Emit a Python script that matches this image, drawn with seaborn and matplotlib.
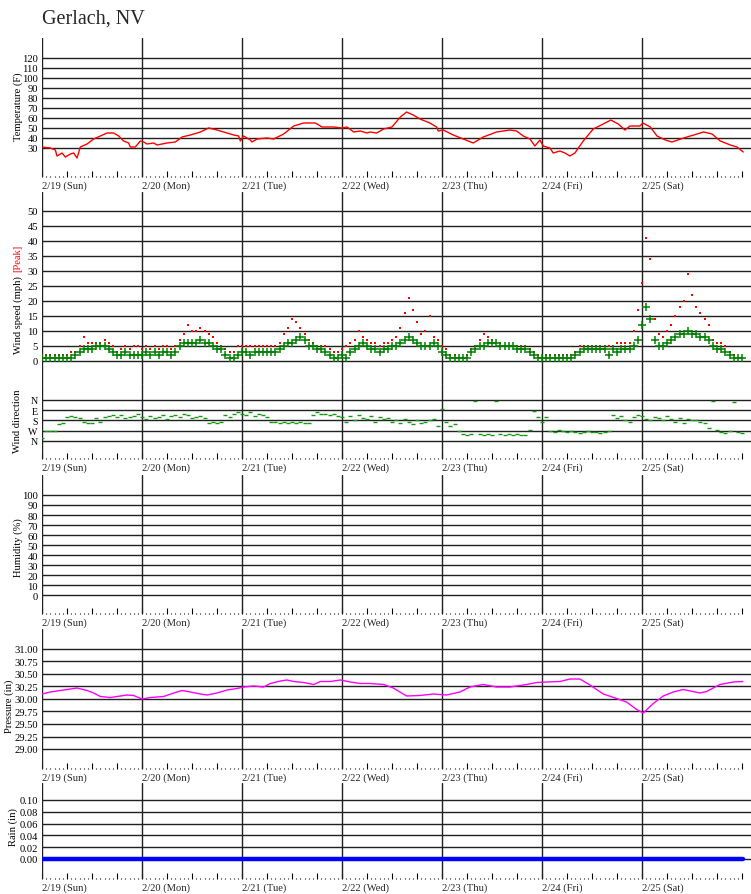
import matplotlib
matplotlib.use('Agg')
import matplotlib.pyplot as plt
import seaborn as sns

TITLE = 'Gerlach, NV'
DAY_LABELS = ['2/19 (Sun)', '2/20 (Mon)', '2/21 (Tue)', '2/22 (Wed)',
              '2/23 (Thu)', '2/24 (Fri)', '2/25 (Sat)']

# temperature (F), read at irregular hours since 2/19 00:00
temp_hours = [0, 2, 3.2, 3.6, 4.8, 5.6, 6.8, 7.6, 8.4, 9.2, 10.8, 12.4, 14, 15.6, 17.2, 18.4, 19.6, 20.8, 21.2, 22.4, 23.6,
              24.4, 25.2, 26.8, 27.6, 30, 32, 33.6, 35.6, 38, 40, 42, 44.4, 46, 47.2, 47.6,
              48.4, 50, 50.4, 51.6, 54, 55.6, 58, 60.4, 62.8, 65.6, 67.2, 70, 72, 73.2, 74.8, 76.4, 78,
              78.7, 80.3, 82, 84, 86, 87.5, 89.1, 90.7, 93.1, 94.7, 95.1, 96.3, 98.7, 101.1, 103.5, 105.9,
              109.1, 112.3, 113.9, 115.5, 117.1, 118.3, 119.5,
              120.3, 121.9, 122.7, 124.3, 125.5, 126.7, 127.9, 129.9, 132.3, 134.7, 136.5, 138.3, 139.9, 141.1, 143.5,
              144.2, 146, 147.6, 149.6, 151.2, 154, 156.4, 158.8, 160.8, 162.8, 165.2, 166.8, 168.3]
temp_f = [31, 30, 28, 22, 25, 21, 24, 25, 20, 31, 34, 39, 42, 45, 45, 42, 37, 35, 31, 31, 37,
          36, 34, 35, 33, 35, 36, 41, 43, 46, 50, 48, 45, 43, 42, 37,
          42, 38, 36, 39, 40, 39, 44, 52, 55, 55, 51, 51, 50, 51, 46, 47, 45,
          46, 45, 49, 51, 61, 66, 63, 59, 55, 51, 47, 48, 43, 39, 35, 41,
          46, 48, 47, 42, 39, 32, 38,
          32, 30, 25, 27, 25, 22, 25, 37, 49, 54, 58, 54, 48, 52, 52,
          55, 51, 42, 38, 36, 40, 43, 46, 44, 37, 33, 31, 26]

# hourly wind readings, hour 0 .. 168
wind_hours = list(range(169))
wind_avg = [1, 1, 1, 1, 1, 1, 1, 1, 2, 3, 4, 4, 4, 5, 5, 5, 4, 3, 2, 2, 3, 2, 2, 2,
            2, 3, 2, 3, 2, 3, 3, 2, 3, 5, 6, 6, 6, 6, 7, 6, 6, 5, 4, 4, 2, 1, 1, 2,
            3, 3, 2, 3, 3, 3, 3, 3, 3, 4, 5, 6, 6, 7, 8, 7, 5, 5, 4, 4, 3, 2, 1, 1,
            2, 1, 3, 4, 5, 6, 5, 4, 4, 3, 4, 4, 5, 5, 6, 7, 8, 7, 6, 5, 5, 5, 6, 5,
            3, 2, 1, 1, 1, 1, 1, 3, 4, 5, 5, 6, 6, 6, 5, 5, 5, 5, 4, 4, 4, 3, 2, 1,
            1, 1, 1, 1, 1, 1, 1, 1, 2, 3, 4, 4, 4, 4, 4, 4, 2, 4, 3, 4, 4, 4, 5, 7,
            12, 18, 14, 7, 5, 5, 6, 7, 8, 9, 9, 10, 9, 9, 8, 8, 7, 5, 4, 4, 3, 2, 1, 1, 1]
wind_peak = [2, 2, 2, 2, 2, 2, 2, 3, 3, 5, 8, 6, 6, 6, 6, 7, 6, 5, 3, 4, 5, 4, 5, 5,
             4, 5, 4, 5, 4, 5, 5, 4, 5, 7, 9, 12, 10, 10, 11, 10, 9, 8, 6, 5, 4, 3, 3, 5,
             5, 5, 5, 5, 5, 5, 5, 5, 5, 6, 9, 11, 14, 13, 11, 9, 7, 6, 5, 5, 5, 4, 3, 3,
             4, 5, 6, 7, 10, 8, 7, 6, 6, 5, 6, 6, 7, 8, 11, 16, 21, 17, 13, 9, 10, 15, 8, 7,
             5, 4, 2, 2, 1, 1, 2, 4, 5, 7, 9, 8, 7, 6, 6, 5, 5, 5, 5, 5, 5, 4, 3, 2,
             1, 2, 2, 2, 2, 2, 2, 2, 3, 5, 5, 5, 5, 5, 5, 5, 5, 5, 6, 6, 6, 6, 10, 17,
             26, 41, 34, 14, 9, 8, 10, 12, 15, 18, 20, 29, 22, 18, 16, 14, 12, 7, 6, 6, 5, 3, 2, 1, 1]
wind_dir = [330, 275, 275, 270, 210, 205, 150, 140, 150, 160, 195, 200, 200, 160, 195, 150, 140, 130, 150, 135, 160, 150, 140, 120,
            150, 170, 140, 160, 150, 130, 170, 140, 130, 150, 120, 130, 160, 150, 140, 160, 200, 195, 200, 190, 130, 150, 120, 110,
            120, 130, 110, 140, 120, 130, 150, 190, 195, 200, 190, 200, 195, 200, 190, 200, 200, 130, 110, 120, 125, 130, 120, 140,
            150, 190, 140, 180, 130, 160, 170, 140, 190, 150, 170, 160, 190, 180, 200, 170, 190, 210, 180, 200, 190, 180, 170, 230,
            80, 190, 230, 210, 270, 300, 310, 300, 10, 300, 305, 300, 310, 5, 300, 310, 300, 310, 300, 305, 310, 260, 100, 150,
            190, 150, 270, 280, 260, 270, 280, 270, 280, 290, 280, 270, 285, 280, 290, 280, 270, 130, 160, 140, 180, 190, 150, 130,
            140, 170, 180, 150, 160, 180, 140, 170, 190, 160, 200, 170, 180, 180, 190, 200, 250, 10, 260, 280, 290, 270, 15, 280, 290]

# pressure (in)
pres_hours = [0, 2, 4.4, 6, 8.4, 10.8, 12.4, 14, 16.4, 18.8, 20.4, 22, 24, 26, 29.2, 31.6, 33.6, 35.6, 38, 39.6,
              42, 44.4, 46.8, 48.4, 50.8, 53.2, 54.8, 57.2, 58.8, 60.4, 62.8, 65.2, 66.8, 69.2, 71.6, 74, 76.4, 78.7, 82, 84.3,
              87.5, 90.7, 93.9, 97.1, 100.3, 102.7, 105.9, 109.1, 112.3, 116.3, 118.7, 121.1, 124.3, 126.7, 129.1, 131.5, 134.7, 137.9, 140.3, 142.7,
              144.3, 146.7, 149.1, 151.5, 153.9, 157.9, 159.5, 162.7, 165.9, 168.2]
pres_in = [30.10, 30.14, 30.17, 30.19, 30.22, 30.17, 30.12, 30.05, 30.03, 30.06, 30.08, 30.07, 30.00, 30.03, 30.05, 30.12, 30.17, 30.14, 30.10, 30.08,
           30.12, 30.18, 30.21, 30.24, 30.26, 30.24, 30.31, 30.36, 30.38, 30.35, 30.33, 30.29, 30.35, 30.35, 30.38, 30.34, 30.31, 30.31, 30.29, 30.22,
           30.06, 30.07, 30.10, 30.08, 30.14, 30.24, 30.29, 30.24, 30.24, 30.29, 30.33, 30.34, 30.35, 30.40, 30.40, 30.28, 30.10, 30.01, 29.94, 29.79,
           29.72, 29.91, 30.06, 30.14, 30.19, 30.12, 30.15, 30.29, 30.34, 30.35]

# rain (in)
rain_hours = [0, 168.2]
rain_in = [0.0, 0.0]

W, H = 751, 895
X_MAX = (751 - 42) / 100 * 24
GRID = '#202020'
FS = 7.6

sns.set_theme(style='white')
plt.rcParams['font.family'] = ['Liberation Serif', 'DejaVu Serif']

fig = plt.figure(figsize=(W / 100, H / 100), dpi=100)


def px_axes(top, bottom):
    return fig.add_axes([42 / W, 1 - bottom / H, (W - 42) / W, (bottom - top) / H])


def style(ax, ticks, labels, ylim, time_axis=True, label_size=FS):
    ax.set_xlim(0, X_MAX)
    ax.set_ylim(*ylim)
    ax.set_xlabel('')
    ax.set_ylabel('')
    for s in ax.spines.values():
        s.set_visible(False)
    ax.set_yticks(ticks)
    ax.set_yticklabels(labels)
    ax.tick_params(axis='y', length=0, pad=3, labelsize=label_size, colors='black')
    for t in ticks:
        ax.axhline(t, color=GRID, lw=1.0, zorder=1)
    for d in range(7):
        ax.axvline(d * 24, color=GRID, lw=1.0, zorder=1)
    if time_axis:
        ax.set_xticks([h for h in range(0, 169, 6)])
        ax.set_xticks(list(range(0, 169)), minor=True)
        ax.tick_params(axis='x', which='major', direction='in', length=4.5, width=0.8,
                       color='black', labelbottom=False, bottom=True)
        ax.tick_params(axis='x', which='minor', direction='in', length=1.0, width=0.8,
                       color='black', bottom=True)
        for d, lab in enumerate(DAY_LABELS):
            ax.annotate(lab, xy=(d * 24, 0), xycoords=('data', 'axes fraction'),
                        xytext=(0, -3), textcoords='offset pixels',
                        ha='left', va='top', fontsize=FS)
    else:
        ax.set_xticks([])


def ylabel(text, x, y, color='black'):
    fig.text(x / W, 1 - y / H, text, rotation=90, ha='center', va='center',
             fontsize=FS, color=color)


fig.text(42 / W, 1 - 19 / H, TITLE, ha='left', va='center', fontsize=14.5)

# temperature
ax = px_axes(39, 178)
sns.lineplot(x=temp_hours, y=temp_f, ax=ax, color='red', lw=1.0, zorder=3)
style(ax, list(range(30, 121, 10)), [str(v) for v in range(30, 121, 10)], (1, 140))
ylabel('Temperature (F)', 18, 107)

# wind speed
ax = px_axes(193, 385)
sns.scatterplot(x=wind_hours, y=wind_peak, ax=ax, color='red', marker='s', s=3,
                linewidth=0, zorder=3)
sns.scatterplot(x=wind_hours, y=wind_avg, ax=ax, color='#008000', marker='+', s=36,
                linewidth=1.1, zorder=4)
style(ax, list(range(0, 51, 5)), [str(v) for v in range(0, 51, 5)], (-7.67, 56.33),
      time_axis=False)
ylabel('Wind speed (mph)', 18, 315)
ylabel('[Peak]', 18, 258, color='red')

# wind direction
ax = px_axes(385, 460)
sns.scatterplot(x=wind_hours, y=wind_dir, ax=ax, color='#119911', marker='_', s=7,
                linewidth=1.0, zorder=3)
style(ax, [0, 90, 180, 270, 360], ['N', 'E', 'S', 'W', 'N'], (518, -140), label_size=7.2)
ylabel('Wind direction', 18, 421)

# humidity (no readings)
ax = px_axes(476, 615)
style(ax, list(range(0, 101, 10)), [str(v) for v in range(0, 101, 10)], (-19, 120))
ylabel('Humidity (%)', 18, 548)

# pressure
ax = px_axes(630, 770)
sns.lineplot(x=pres_hours, y=pres_in, ax=ax, color='#ff00ff', lw=1.0, zorder=3)
pt = [29.00, 29.25, 29.50, 29.75, 30.00, 30.25, 30.50, 30.75, 31.00]
style(ax, pt, ['%.2f' % v for v in pt], (28.6, 31.4))
ylabel('Pressure (in)', 9, 706)

# rain
ax = px_axes(784, 880)
sns.lineplot(x=rain_hours, y=rain_in, ax=ax, color='#0000ff', lw=3.2, zorder=3)
rt = [0.00, 0.02, 0.04, 0.06, 0.08, 0.10]
style(ax, rt, ['%.2f' % v for v in rt], (-0.0339, 0.1288))
ylabel('Rain (in)', 13, 827)

fig.savefig('out.png', dpi=100)
plt.close(fig)
